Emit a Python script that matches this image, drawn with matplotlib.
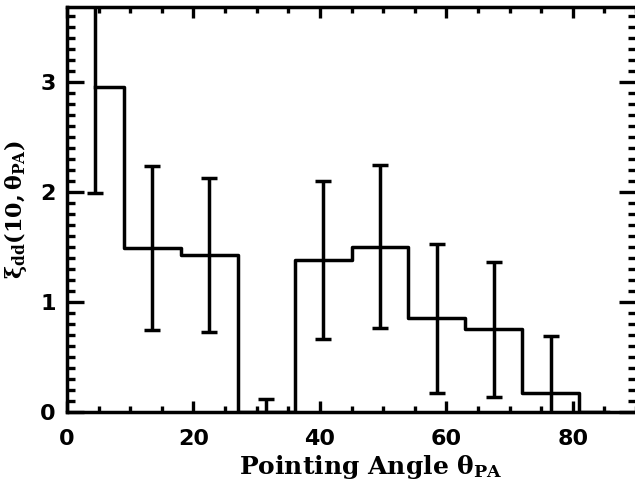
import matplotlib
matplotlib.use("Agg")
import matplotlib.pyplot as plt
from matplotlib.ticker import MultipleLocator

# bin centres (degrees), correlation values and 1-sigma errors
angle = [4.5, 13.5, 22.5, 31.5, 40.5, 49.5, 58.5, 67.5, 76.5, 85.5]
xi = [2.95, 1.49, 1.43, 0.0, 1.38, 1.50, 0.85, 0.75, 0.17, 0.0]
xi_err = [0.96, 0.745, 0.70, 0.12, 0.72, 0.74, 0.68, 0.61, 0.52, 0.0]

plt.rcParams['mathtext.fontset'] = 'dejavuserif'

fig = plt.figure(figsize=(6.35, 4.84), dpi=100)
ax = fig.add_axes([67 / 635, 1 - 412 / 484, (636 - 67) / 635, (412 - 7) / 484])

# histogram-style steps (half steps at the ends, like psym=10)
ax.plot(angle, xi, drawstyle='steps-mid', color='black', lw=2.5)
ax.errorbar(angle[:-1], xi[:-1], yerr=xi_err[:-1], fmt='none', ecolor='black',
            elinewidth=2.5, capsize=5.5, capthick=2.5)

ax.set_xlim(0, 90)
ax.set_ylim(0, 3.68)

ax.xaxis.set_major_locator(MultipleLocator(20))
ax.xaxis.set_minor_locator(MultipleLocator(5))
ax.yaxis.set_major_locator(MultipleLocator(1))
ax.yaxis.set_minor_locator(MultipleLocator(0.1))

ax.tick_params(axis='both', which='both', direction='in', top=True, right=True,
               color='black', width=2.4)
ax.tick_params(axis='x', which='major', length=8, pad=12)
ax.tick_params(axis='x', which='minor', length=4)
ax.tick_params(axis='y', which='major', length=12, pad=8)
ax.tick_params(axis='y', which='minor', length=6)

for s in ax.spines.values():
    s.set_linewidth(2.5)
ax.spines['right'].set_visible(False)

for lab in ax.get_xticklabels() + ax.get_yticklabels():
    lab.set_fontfamily('DejaVu Sans')
    lab.set_fontweight('bold')
    lab.set_fontsize(16)

ax.set_xlabel(r'Pointing Angle $\mathbf{\theta}_{\mathbf{PA}}$', family='DejaVu Serif',
              fontsize=18, fontweight='bold')
ax.xaxis.set_label_coords(0.534, -0.102)
ax.set_ylabel(r'$\mathbf{\xi}_{\mathbf{dd}}\mathbf{(10,}\mathbf{\theta}_{\mathbf{PA}}\mathbf{)}$',
              family='DejaVu Serif', fontsize=16, labelpad=8)

fig.savefig('out.png', dpi=100)
